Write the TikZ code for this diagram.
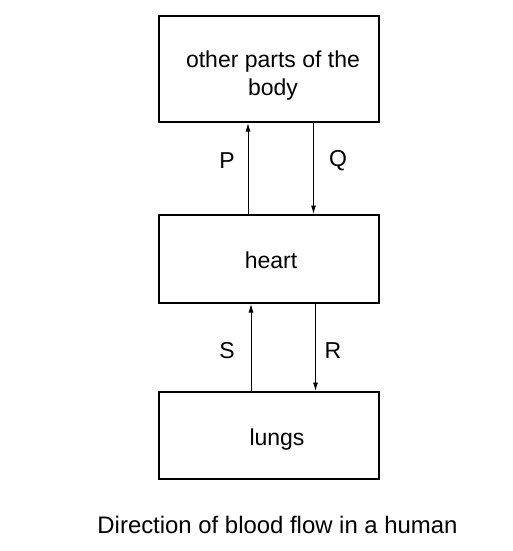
\documentclass[tikz,border=0pt]{standalone}
\usepackage{fontspec}
\setmainfont{Liberation Sans}
\usetikzlibrary{arrows.meta}
\begin{document}
\begin{tikzpicture}[x=1pt,y=-1pt,
  box/.style={draw,line width=2pt,minimum width=220pt,inner sep=0pt},
  txt/.style={font=\fontsize{23}{28}\selectfont,align=center,inner sep=0pt},
  arr/.style={line width=0.9pt,-{Latex[length=8.5pt,width=5pt]}}]
\useasboundingbox (0,0) rectangle (513,551);
\node[box,minimum height=106pt] (body) at (268.5,69) {};
\node[box,minimum height=88pt] (heart) at (268.5,259) {};
\node[box,minimum height=87pt] (lungs) at (268.5,435.5) {};
\node[txt] (tbody) at (273,76) {other parts of the\\body};
\node[txt] (theart) at (271,260) {heart};
\node[txt] (tlungs) at (277,439.5) {lungs};
\coordinate (xp) at (248,0);
\coordinate (xq) at (313.5,0);
\coordinate (xs) at (251,0);
\coordinate (xr) at (315.5,0);
\draw[arr] (heart.north -| xp) -- (body.south -| xp);
\draw[arr] (body.south -| xq) -- (heart.north -| xq);
\draw[arr] (lungs.north -| xs) -- (heart.south -| xs);
\draw[arr] (heart.south -| xr) -- (lungs.north -| xr);
\node[txt] (lp) at (227,161) {P};
\node[txt] (lq) at (338,161) {Q};
\node[txt] (ls) at (227,351) {S};
\node[txt] (lr) at (333,351) {R};
\node[txt,font=\fontsize{23.9}{28}\selectfont] (cap) at (277.5,525) {Direction of blood flow in a human};
\end{tikzpicture}
\end{document}
